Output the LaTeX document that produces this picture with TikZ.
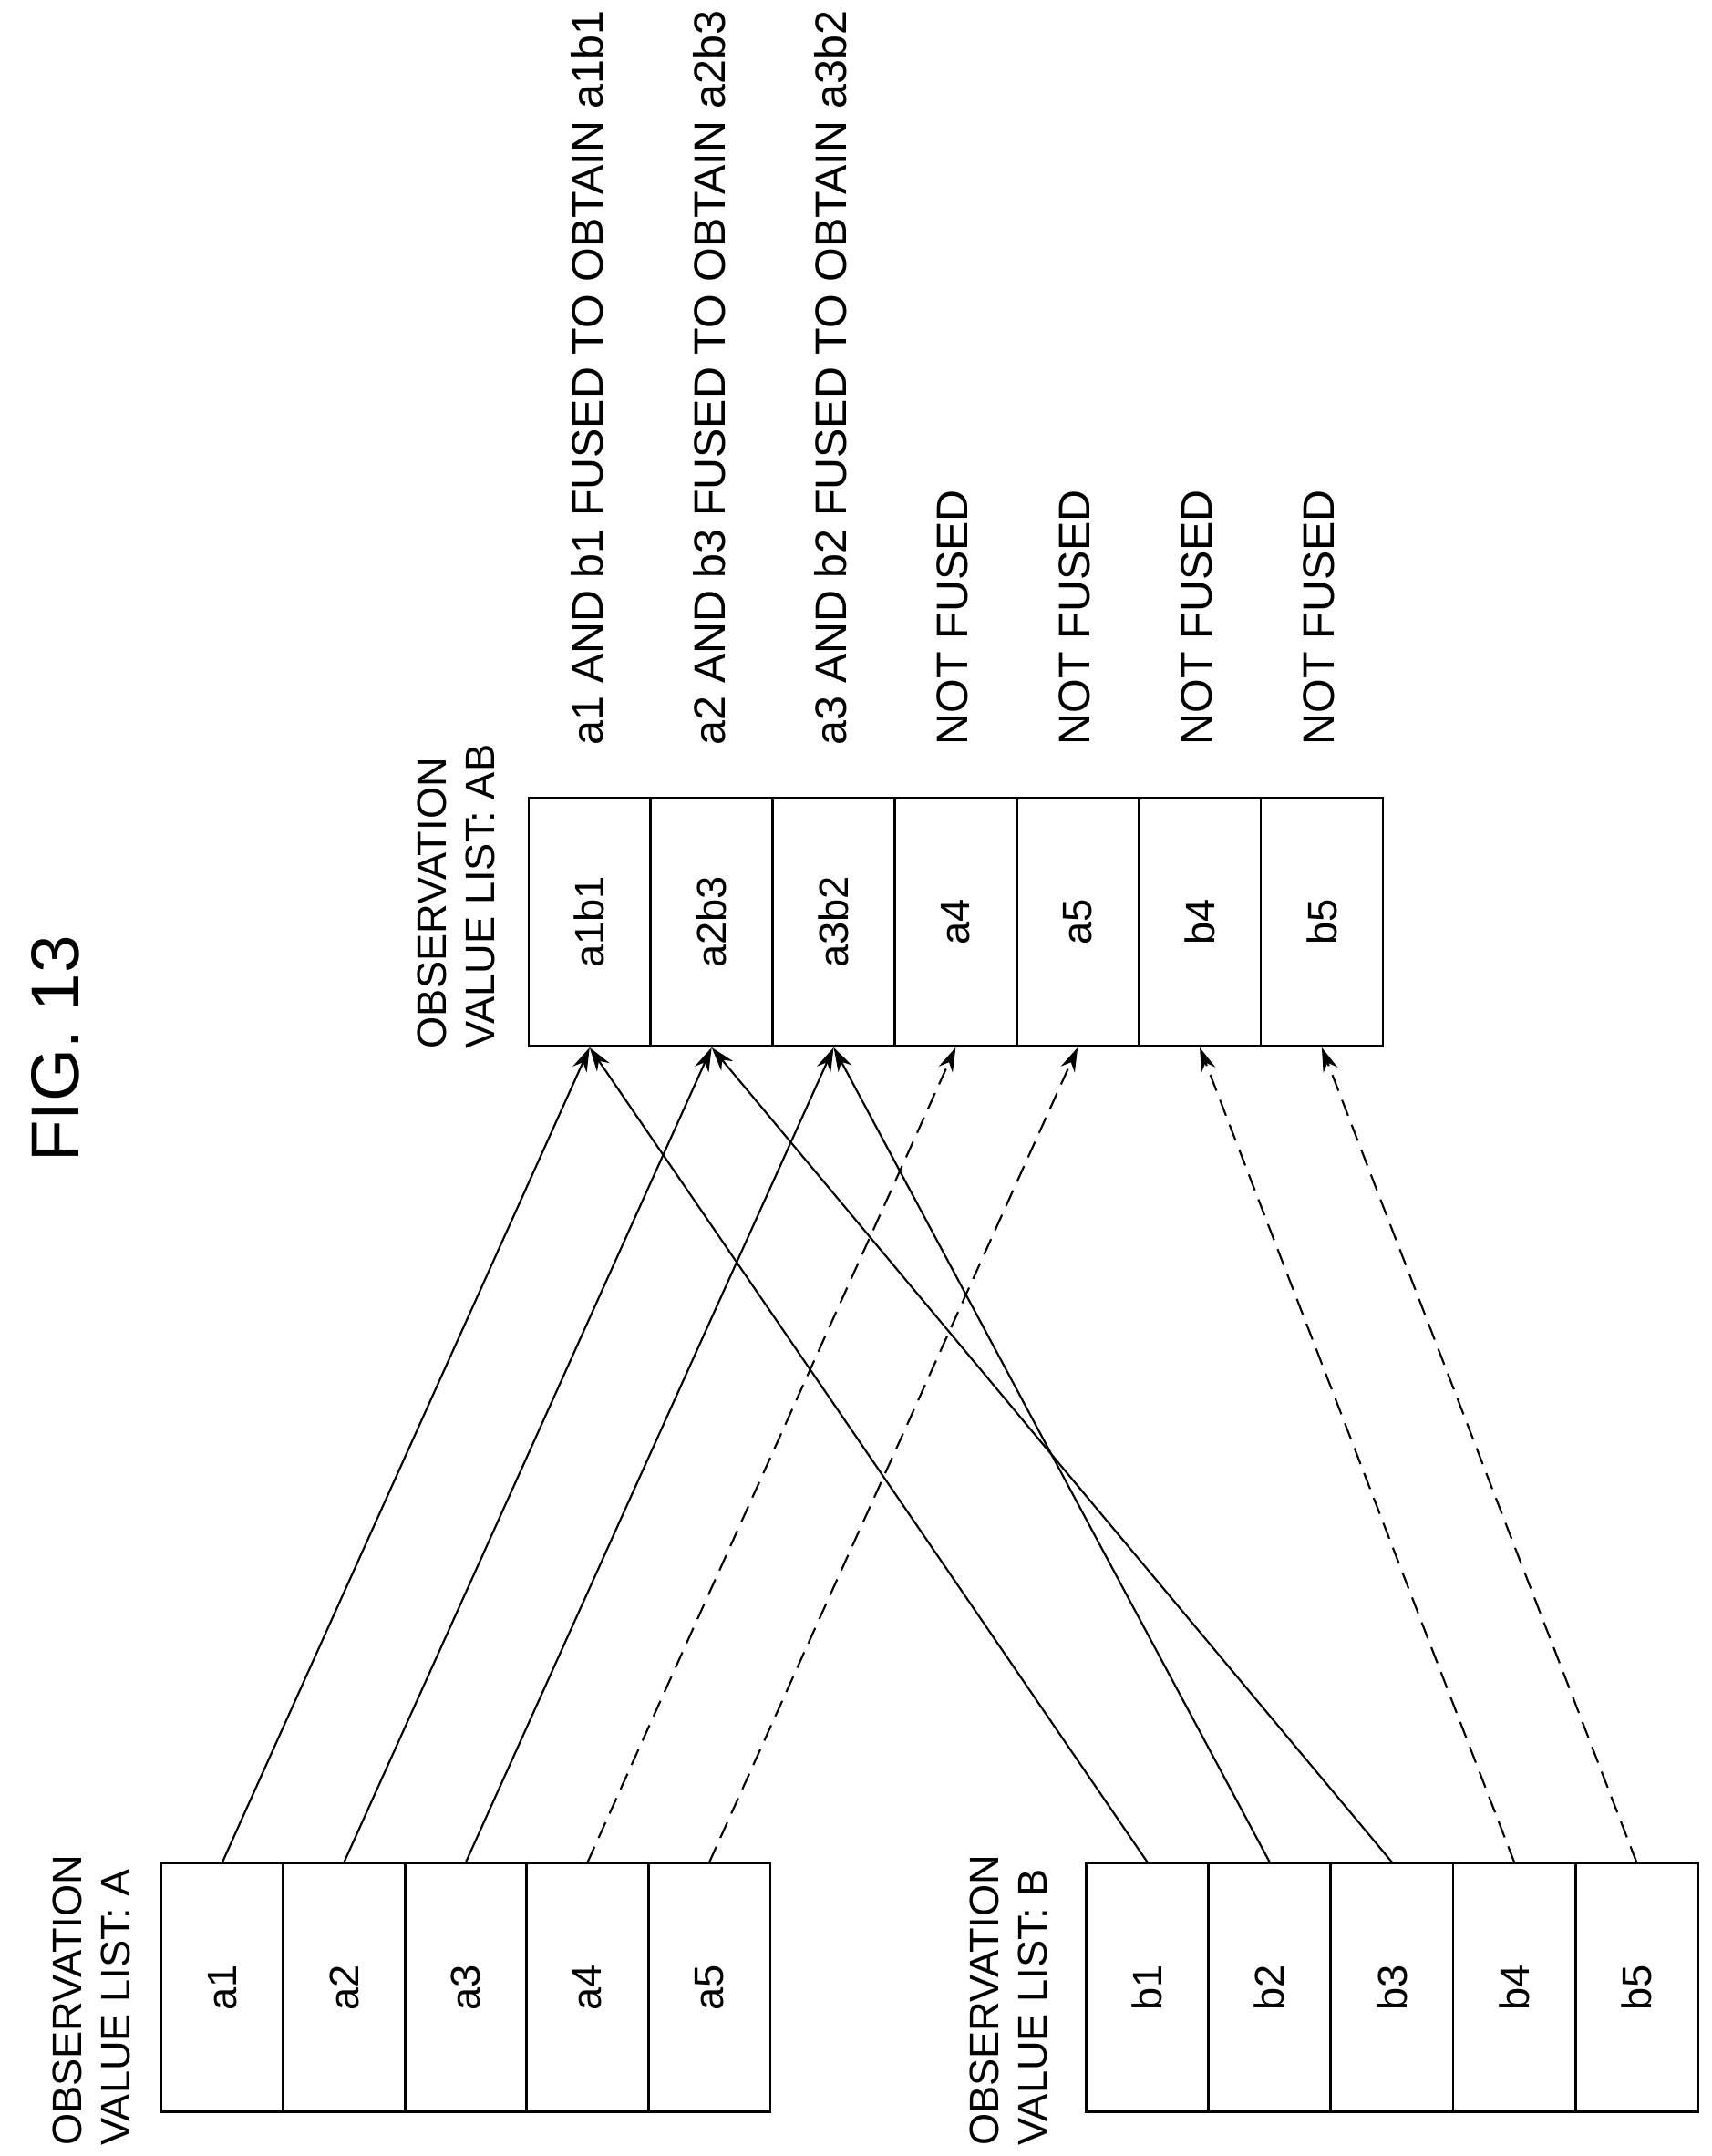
\documentclass[tikz,border=0pt]{standalone}
\usepackage{fontspec}
\setmainfont{Liberation Sans}
\usetikzlibrary{arrows.meta}
\begin{document}
\begin{tikzpicture}[x=0.02cm,y=-0.02cm,
  cell/.style={draw,line width=1pt,minimum width=1.77cm,minimum height=3.6cm,inner sep=0pt,font=\fontsize{17}{20}\selectfont},
  lbl/.style={rotate=90,font=\fontsize{17}{20}\selectfont,inner sep=0pt},
  arr/.style={line width=0.8pt,-{Stealth[length=3.5mm,width=2.2mm]}},
  dsh/.style={arr,dash pattern=on 7pt off 4pt}]
\useasboundingbox (0,0) rectangle (1240,1562);
\node[lbl,font=\fontsize{28}{32}\selectfont] (fig) at (40,760) {FIG. 13};
\foreach \i/\t in {1/a1,2/a2,3/a3,4/a4,5/a5}
  \node[cell] (A\i) at ({117+88.2*(\i-0.5)},1440) {\rotatebox{90}{\t}};
\foreach \i/\t in {1/b1,2/b2,3/b3,4/b4,5/b5}
  \node[cell] (B\i) at ({787+88.6*(\i-0.5)},1440) {\rotatebox{90}{\t}};
\foreach \i/\t in {1/a1b1,2/a2b3,3/a3b2,4/a4,5/a5,6/b4,7/b5}
  \node[cell] (AB\i) at ({383+88.4*(\i-0.5)},668) {\rotatebox{90}{\t}};
\node[lbl,anchor=north west,align=left] (LA) at (38,1555) {OBSERVATION\\VALUE LIST: A};
\node[lbl,anchor=north west,align=left] (LB) at (702,1555) {OBSERVATION\\VALUE LIST: B};
\node[lbl,anchor=north west,align=left] (LAB) at (302,760) {OBSERVATION\\VALUE LIST: AB};
\foreach \i/\t in {1/a1 AND b1 FUSED TO OBTAIN a1b1,2/a2 AND b3 FUSED TO OBTAIN a2b3,3/a3 AND b2 FUSED TO OBTAIN a3b2,4/NOT FUSED,5/NOT FUSED,6/NOT FUSED,7/NOT FUSED}
  \node[lbl,anchor=north west,font=\fontsize{18.2}{21}\selectfont] (T\i) at ({383+88.4*(\i-0.5)-14},540) {\t};
\draw[arr] (A1.north) -- (AB1.south);
\draw[arr] (A2.north) -- (AB2.south);
\draw[arr] (A3.north) -- (AB3.south);
\draw[dsh] (A4.north) -- (AB4.south);
\draw[dsh] (A5.north) -- (AB5.south);
\draw[arr] (B1.north) -- (AB1.south);
\draw[arr] (B2.north) -- (AB3.south);
\draw[arr] (B3.north) -- (AB2.south);
\draw[dsh] (B4.north) -- (AB6.south);
\draw[dsh] (B5.north) -- (AB7.south);
\end{tikzpicture}
\end{document}
